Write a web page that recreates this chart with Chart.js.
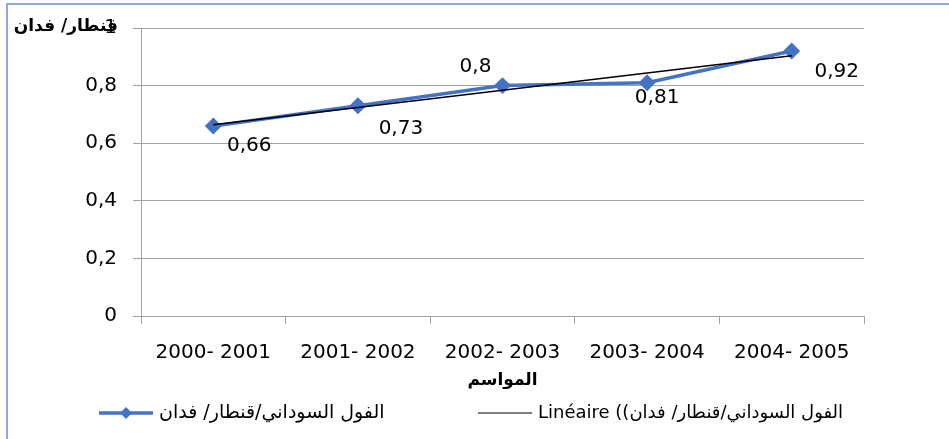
<!DOCTYPE html>
<html>
<head>
<meta charset="utf-8">
<script src="https://cdn.jsdelivr.net/npm/chart.js@4"></script>
<style>
  body { margin: 0; background: #fff; }
  #wrap { position: relative; width: 949px; height: 439px; }
</style>
</head>
<body>
<div id="wrap"><canvas id="chart1"></canvas></div>
<script>
// data
var seasons = ['2000- 2001', '2001- 2002', '2002- 2003', '2003- 2004', '2004- 2005'];
var yieldValues = [0.66, 0.73, 0.8, 0.81, 0.92];
var yTicks = [0, 0.2, 0.4, 0.6, 0.8, 1];
var seriesName = 'الفول السوداني/قنطار/ فدان';
var trendName = 'Linéaire ((الفول السوداني/قنطار/ فدان';
var yTitle = 'قنطار/ فدان';
var xTitle = 'المواسم';

// label offsets from each point (px)
var labelOffsets = [[36, 20], [43, 23], [-27, -19], [10, 15], [45, 21]];

// least squares trend line, like the spreadsheet one
function linearTrend(vals) {
  var n = vals.length, sx = 0, sy = 0, sxy = 0, sxx = 0;
  for (var i = 0; i < n; i++) {
    sx += i; sy += vals[i]; sxy += i * vals[i]; sxx += i * i;
  }
  var slope = (n * sxy - sx * sy) / (n * sxx - sx * sx);
  var icpt = (sy - slope * sx) / n;
  return vals.map(function (v, i) { return icpt + slope * i; });
}

function fmt(v) {
  return String(Math.round(v * 100) / 100).replace('.', ',');
}

var FONT = '"DejaVu Sans", "Liberation Sans", sans-serif';
var gridColor = '#a3a3a3';
var blue = '#4472C4';

var extras = {
  id: 'extras',
  beforeDraw: function (chart) {
    var ctx = chart.ctx;
    ctx.save();
    ctx.strokeStyle = '#8eaadb';
    ctx.lineWidth = 2;
    ctx.beginPath();
    ctx.moveTo(7, 439);
    ctx.lineTo(7, 4);
    ctx.lineTo(949, 4);
    ctx.stroke();
    ctx.restore();
  },
  afterDraw: function (chart) {
    var ctx = chart.ctx;
    ctx.save();
    ctx.fillStyle = '#000';
    ctx.textBaseline = 'middle';

    // y title, horizontal at the top left
    ctx.font = 'bold 17px ' + FONT;
    ctx.textAlign = 'right';
    ctx.fillText(yTitle, 118, 27);

    // data labels
    ctx.font = '20px ' + FONT;
    ctx.textAlign = 'center';
    var pts = chart.getDatasetMeta(0).data;
    pts.forEach(function (p, i) {
      ctx.fillText(fmt(yieldValues[i]), p.x + labelOffsets[i][0], p.y + labelOffsets[i][1]);
    });

    // legend
    var ly = 413;
    ctx.strokeStyle = blue;
    ctx.lineWidth = 3.5;
    ctx.beginPath();
    ctx.moveTo(99, ly);
    ctx.lineTo(153, ly);
    ctx.stroke();
    ctx.fillStyle = blue;
    ctx.beginPath();
    ctx.moveTo(126, ly - 6);
    ctx.lineTo(132, ly);
    ctx.lineTo(126, ly + 6);
    ctx.lineTo(120, ly);
    ctx.closePath();
    ctx.fill();

    ctx.strokeStyle = '#000';
    ctx.lineWidth = 1.2;
    ctx.beginPath();
    ctx.moveTo(478, ly);
    ctx.lineTo(532, ly);
    ctx.stroke();

    ctx.fillStyle = '#000';
    ctx.textAlign = 'left';
    ctx.direction = 'ltr';
    ctx.font = '19px ' + FONT;
    ctx.fillText(seriesName, 159, ly);
    ctx.font = '18px ' + FONT;
    ctx.fillText(trendName, 538, ly);
    ctx.restore();
  }
};

var ctx1 = document.getElementById('chart1').getContext('2d');
var chart1 = new Chart(ctx1, {
  type: 'line',
  data: {
    labels: seasons,
    datasets: [{
      label: seriesName,
      data: yieldValues,
      borderColor: blue,
      backgroundColor: blue,
      borderWidth: 3.5,
      pointStyle: 'rectRot',
      pointRadius: 6,
      pointHoverRadius: 6,
      tension: 0,
      order: 1
    }, {
      label: trendName,
      data: linearTrend(yieldValues),
      borderColor: '#000',
      borderWidth: 1.5,
      pointRadius: 0,
      tension: 0,
      order: 0
    }]
  },
  options: {
    responsive: true,
    maintainAspectRatio: false,
    animation: false,
    layout: { padding: { left: 0, right: 85, top: 28, bottom: 48 } },
    plugins: {
      legend: { display: false },
      tooltip: { enabled: false }
    },
    scales: {
      x: {
        offset: true,
        grid: { offset: true, drawOnChartArea: false, drawTicks: true, tickLength: 8, color: gridColor },
        border: { color: gridColor },
        ticks: { color: '#000', font: { family: FONT, size: 20 }, padding: 17, maxRotation: 0 },
        title: { display: true, text: xTitle, color: '#000', font: { family: FONT, size: 17, weight: 'bold' }, padding: 0 },
        afterFit: function (scale) { scale.height = 75; }
      },
      y: {
        min: 0,
        max: 1,
        afterBuildTicks: function (scale) {
          scale.ticks = yTicks.map(function (v) { return { value: v }; });
        },
        grid: { color: gridColor, tickLength: 8 },
        border: { color: gridColor },
        ticks: {
          color: '#000',
          font: { family: FONT, size: 20 },
          padding: 16,
          callback: function (v) { return fmt(v); }
        },
        afterFit: function (scale) { scale.width = 141; }
      }
    }
  },
  plugins: [extras]
});
</script>
</body>
</html>
